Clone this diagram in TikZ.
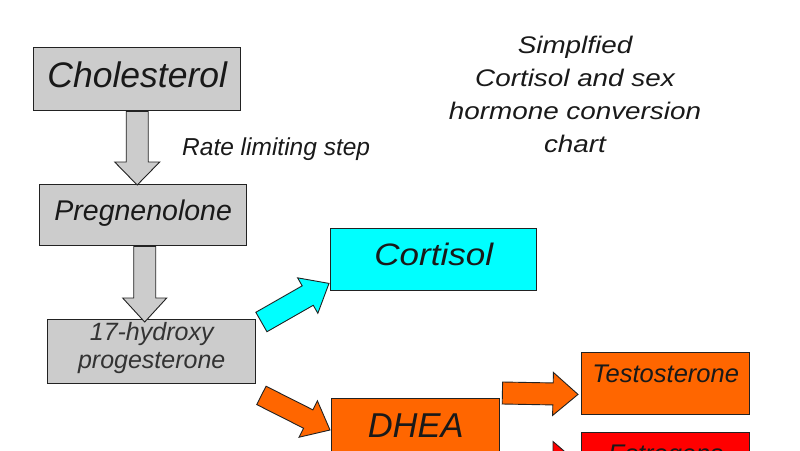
\documentclass[tikz,border=0pt]{standalone}
\usepackage{fontspec}
\setmainfont{Liberation Sans}
\newfontfamily\widefont[FakeStretch=1.13]{Liberation Sans}
\newfontfamily\titlefont[FakeStretch=1.16]{Liberation Sans}
\usetikzlibrary{calc}
\definecolor{boxgray}{HTML}{CCCCCC}
\definecolor{cyanfill}{HTML}{00FFFF}
\definecolor{orangefill}{HTML}{FF6600}
\definecolor{redfill}{HTML}{FF0000}
\definecolor{txtgray}{HTML}{333333}
\definecolor{edge}{HTML}{222222}
\tikzset{
  hbox/.style={draw=edge, line width=1.4pt, inner xsep=0pt, inner ysep=0pt,
    anchor=north west, align=center, text=black!90},
  arrowline/.style={draw=edge, line width=0.9pt, line join=miter},
}
\newcommand\blockarrow[6]{%
  \coordinate (#1-#2-h) at ($(#2)!#5!(#1)$);
  \draw[arrowline, fill=#6] ($(#1)!#3!90:(#2)$) -- ($(#1-#2-h)!#3!90:(#2)$)
    -- ($(#1-#2-h)!#4!90:(#2)$) -- (#2) -- ($(#1-#2-h)!#4!-90:(#2)$)
    -- ($(#1-#2-h)!#3!-90:(#2)$) -- ($(#1)!#3!-90:(#2)$) -- cycle;
}
\begin{document}
\begin{tikzpicture}[x=1pt, y=-1pt]
\useasboundingbox (0,0) rectangle (800,450);
% boxes
\node (chol) [hbox, fill=boxgray, minimum width=207pt, minimum height=63pt,
  text height=40pt, text depth=23pt,
  font=\fontsize{35.5}{40}\selectfont\itshape] at (33,47) {Cholesterol};
\node (preg) [hbox, fill=boxgray, minimum width=207pt, minimum height=61pt,
  text height=36pt, text depth=25pt,
  font=\fontsize{28.5}{32}\selectfont\itshape] at (39,184) {Pregnenolone};
\node (hyd) [hbox, fill=boxgray, minimum width=208pt, minimum height=64pt, text=txtgray,
  font=\fontsize{25}{28}\selectfont\itshape] at (47,319)
  {17-hydroxy\\progesterone\rule[-12pt]{0pt}{12pt}};
\node (cort) [hbox, fill=cyanfill, minimum width=206pt, minimum height=62pt,
  text height=37pt, text depth=25pt,
  font=\widefont\fontsize{31}{34}\selectfont\itshape] at (330,228) {Cortisol};
\node (dhea) [hbox, fill=orangefill, minimum width=168pt, minimum height=62pt,
  text height=39pt, text depth=23pt,
  font=\fontsize{34.5}{38}\selectfont\itshape] at (331,398) {DHEA};
\node (test) [hbox, fill=orangefill, minimum width=168pt, minimum height=62pt,
  text height=30pt, text depth=32pt,
  font=\fontsize{25.5}{28}\selectfont\itshape] at (581,352) {Testosterone};
\node (estr) [hbox, fill=redfill, minimum width=168pt, minimum height=62pt,
  text height=30pt, text depth=32pt,
  font=\fontsize{25.5}{28}\selectfont\itshape] at (581,432) {Estrogens};
% texts
\node (title) [anchor=north, inner sep=0pt, align=center, text=black!90,
  font=\titlefont\fontsize{24}{33.2}\selectfont\itshape] at (575,35.5)
  {Simplfied\\Cortisol and sex\\hormone conversion\\chart};
\node (rate) [anchor=base west, inner sep=0pt, text=black!90,
  font=\fontsize{24.5}{28}\selectfont\itshape] at (182,155) {Rate limiting step};
% connector end points
\coordinate (a1tail) at (chol.south);
\coordinate (a1tip) at ($(chol.south |- preg.north)+(0,1)$);
\coordinate (a2tail) at ($(preg.south)+(1.5,0)$);
\coordinate (a2tip) at ($(a2tail |- hyd.north)+(0,3)$);
\coordinate (ctail) at ($(hyd.north east)+(5,3)$);
\coordinate (ctip) at ($(cort.south west)+(-1,-8)$);
\coordinate (dtail) at ($(hyd.south east)+(5,11)$);
\coordinate (dtip) at ($(dhea.north west)+(-1,32)$);
\coordinate (ttail) at ($(dhea.north east)+(2,-5)$);
\coordinate (ttip) at ($(test.south west)+(-3,-21)$);
\coordinate (etip) at ($(estr.north west)+(-3,31)$);
\coordinate (etail) at ($(etip)+(-77,0)$);
% block arrows
\blockarrow{a1tail}{a1tip}{11pt}{22.5pt}{23pt}{boxgray}
\blockarrow{a2tail}{a2tip}{11pt}{22pt}{24pt}{boxgray}
\blockarrow{ctail}{ctip}{11.2pt}{20.4pt}{24.5pt}{cyanfill}
\blockarrow{dtail}{dtip}{10.3pt}{20.4pt}{24.4pt}{orangefill}
\blockarrow{ttail}{ttip}{11pt}{21.5pt}{25pt}{orangefill}
\blockarrow{etail}{etip}{11pt}{21.5pt}{25pt}{redfill}
\end{tikzpicture}
\end{document}
